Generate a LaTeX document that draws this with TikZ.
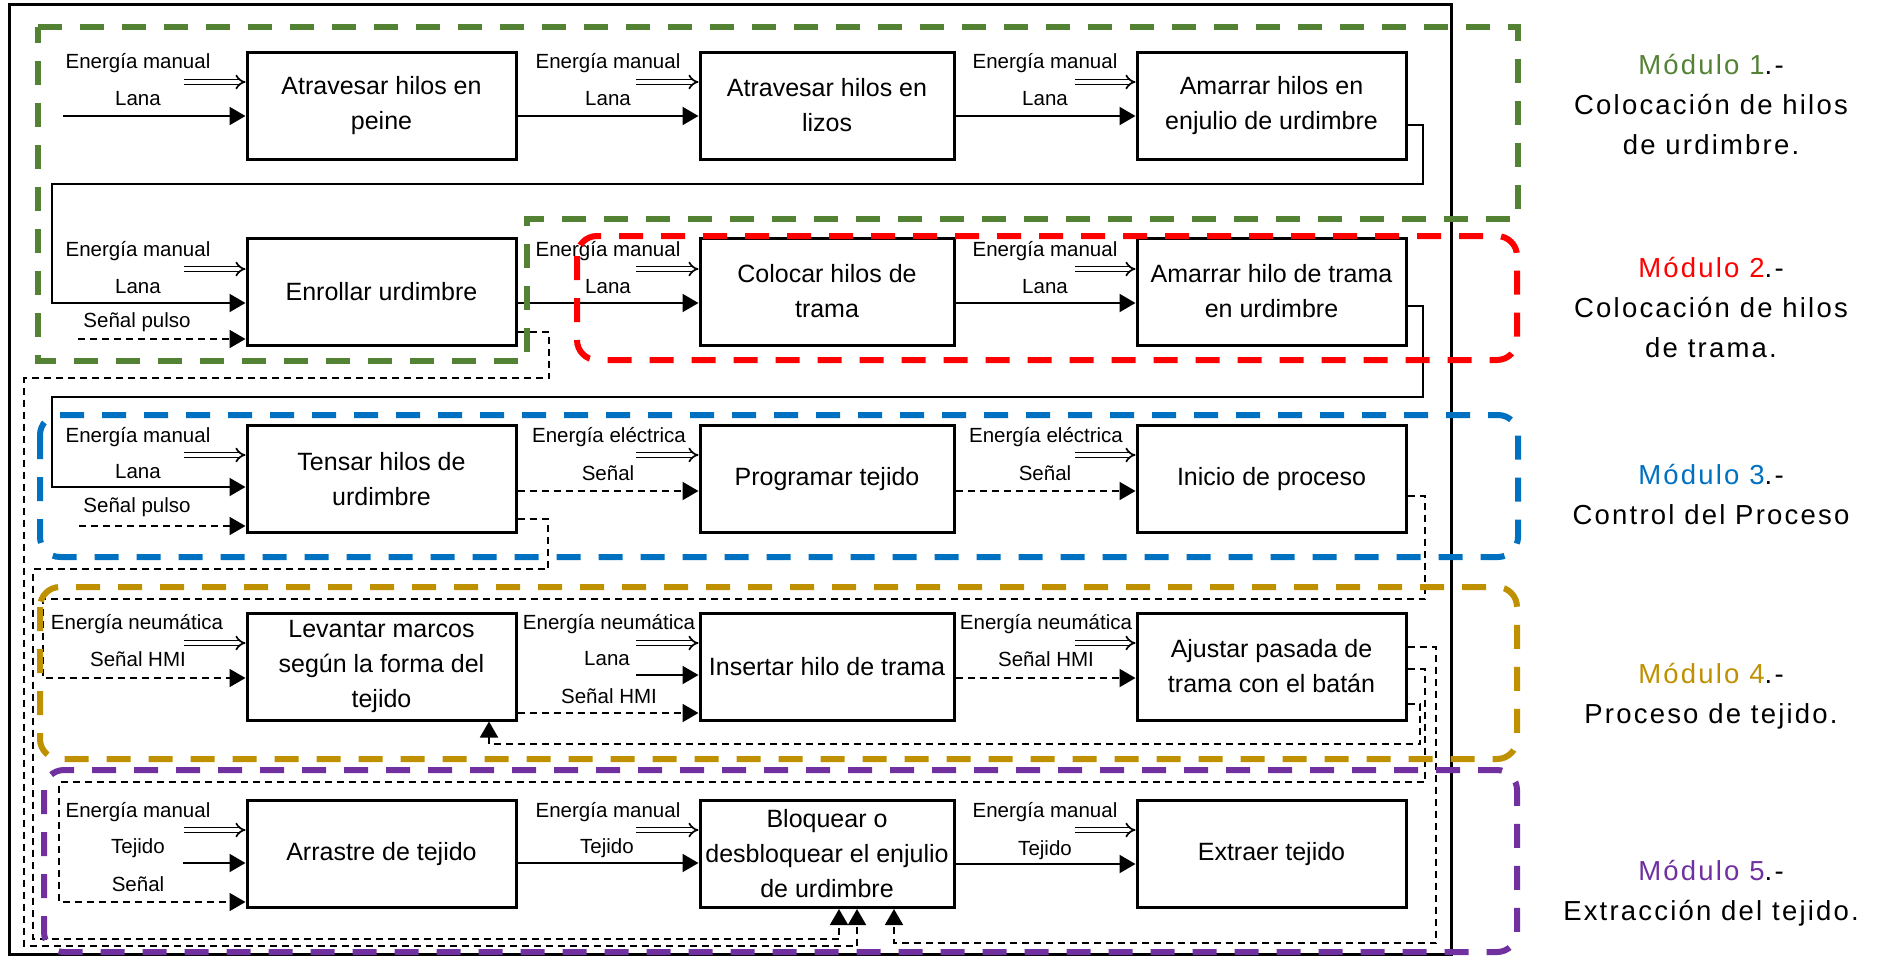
\documentclass[tikz,border=0pt]{standalone}
\usepackage{fontspec}
\setmainfont{Liberation Sans}
\newfontfamily\modfont[LetterSpace=8]{Liberation Sans}
\usetikzlibrary{arrows.meta}
\definecolor{mgreen}{RGB}{84,130,53}
\definecolor{mred}{RGB}{255,0,0}
\definecolor{mblue}{RGB}{0,112,192}
\definecolor{mgold}{RGB}{191,144,0}
\definecolor{mpurple}{RGB}{112,48,160}
\tikzset{
  box/.style={draw, line width=3pt, minimum height=107pt, inner sep=0pt, align=center,
    font=\fontsize{25}{35}\selectfont},
  wbox/.style={box, minimum width=269pt},
  nbox/.style={box, minimum width=254pt},
  lbl/.style={font=\fontsize{20.5}{24}\selectfont, inner sep=0pt},
  tip/.style={-{Triangle[length=16pt,width=18pt]}},
  sarrow/.style={line width=2pt, tip},
  darrow/.style={line width=1.7pt, double, double distance=3.2pt, -{Implies}},
  sigarrow/.style={line width=2pt, dash pattern=on 7pt off 5pt, tip},
  conn/.style={line width=2pt, tip},
  fbline/.style={line width=1.8pt, dash pattern=on 7pt off 5pt, tip},
  modline/.style={line width=6pt, dash pattern=on 24pt off 18pt},
  modlbl/.style={font=\modfont\fontsize{27.5}{40}\selectfont, align=center, inner sep=0pt},
}
\begin{document}
\begin{tikzpicture}[x=1pt,y=-1pt]
\useasboundingbox (0,0) rectangle (1881,956);
\draw[line width=3pt] (9,4) rectangle (1451,954);

% ---------- boxes ----------
\node[wbox] (A1) at (381.5,105.5) {Atravesar hilos en\\peine};
\node[nbox] (A2) at (827,105.5) {Atravesar hilos en\\lizos};
\node[wbox] (A3) at (1271.5,105.5) {Amarrar hilos en\\enjulio de urdimbre};
\node[wbox] (B1) at (381.5,291.5) {Enrollar urdimbre};
\node[nbox] (B2) at (827,291.5) {Colocar hilos de\\trama};
\node[wbox] (B3) at (1271.5,291.5) {Amarrar hilo de trama\\en urdimbre};
\node[wbox] (C1) at (381.5,479) {Tensar hilos de\\urdimbre};
\node[nbox] (C2) at (827,479) {Programar tejido};
\node[wbox] (C3) at (1271.5,479) {Inicio de proceso};
\node[wbox] (D1) at (381.5,666.5) {Levantar marcos\\según la forma del\\tejido};
\node[nbox] (D2) at (827,666.5) {Insertar hilo de trama};
\node[wbox] (D3) at (1271.5,666.5) {Ajustar pasada de\\trama con el batán};
\node[wbox] (E1) at (381.5,854) {Arrastre de tejido};
\node[nbox] (E2) at (827,854) {Bloquear o\\desbloquear el enjulio\\de urdimbre};
\node[wbox] (E3) at (1271.5,854) {Extraer tejido};

% ---------- row 1 ----------
\node[lbl] (a0e) at (138,63) {Energía manual};
\node[lbl] (a0l) at (138,99) {Lana};
\node[lbl] (a1e) at (608,63) {Energía manual};
\node[lbl] (a1l) at (608,99) {Lana};
\node[lbl] (a2e) at (1045,63) {Energía manual};
\node[lbl] (a2l) at (1045,99) {Lana};
\coordinate (a0d) at (184,82);
\coordinate (a0s) at (63,116);
\coordinate (a1d) at (636,82);
\coordinate (a2d) at (1075,82);
\draw[darrow] (a0d) -- (a0d -| A1.west);
\draw[sarrow] (a0s) -- (a0s -| A1.west);
\draw[darrow] (a1d) -- (a1d -| A2.west);
\draw[sarrow] (A1.east |- 0,116) -- (A2.west |- 0,116);
\draw[darrow] (a2d) -- (a2d -| A3.west);
\draw[sarrow] (A2.east |- 0,116) -- (A3.west |- 0,116);
\draw[conn] (A3.east |- 0,125) -| (1423,184) -| (52,303) -- (B1.west |- 0,303);

% ---------- row 2 ----------
\node[lbl] (b0e) at (138,251) {Energía manual};
\node[lbl] (b0l) at (138,287) {Lana};
\node[lbl] (b0p) at (137,322) {Señal pulso};
\node[lbl] (b1e) at (608,251) {Energía manual};
\node[lbl] (b1l) at (608,287) {Lana};
\node[lbl] (b2e) at (1045,251) {Energía manual};
\node[lbl] (b2l) at (1045,287) {Lana};
\coordinate (b0d) at (184,269);
\coordinate (b0p0) at (78,339);
\coordinate (b1d) at (636,269);
\coordinate (b2d) at (1075,269);
\draw[darrow] (b0d) -- (b0d -| B1.west);
\draw[sigarrow] (b0p0) -- (b0p0 -| B1.west);
\draw[darrow] (b1d) -- (b1d -| B2.west);
\draw[sarrow] (B1.east |- 0,303) -- (B2.west |- 0,303);
\draw[darrow] (b2d) -- (b2d -| B3.west);
\draw[sarrow] (B2.east |- 0,303) -- (B3.west |- 0,303);
\draw[conn] (B3.east |- 0,306) -| (1423,397) -| (52,487) -- (C1.west |- 0,487);

% ---------- row 3 ----------
\node[lbl] (c0e) at (138,437) {Energía manual};
\node[lbl] (c0l) at (138,472) {Lana};
\node[lbl] (c0p) at (137,507) {Señal pulso};
\node[lbl] (c1e) at (609,437) {Energía eléctrica};
\node[lbl] (c1s) at (608,473) {Señal};
\node[lbl] (c2e) at (1046,437) {Energía eléctrica};
\node[lbl] (c2s) at (1045,473) {Señal};
\coordinate (c0d) at (184,455);
\coordinate (c0p0) at (79,526);
\coordinate (c1d) at (636,455);
\coordinate (c2d) at (1075,455);
\draw[darrow] (c0d) -- (c0d -| C1.west);
\draw[sigarrow] (c0p0) -- (c0p0 -| C1.west);
\draw[darrow] (c1d) -- (c1d -| C2.west);
\draw[sigarrow] (C1.east |- 0,491) -- (C2.west |- 0,491);
\draw[darrow] (c2d) -- (c2d -| C3.west);
\draw[sigarrow] (C2.east |- 0,491) -- (C3.west |- 0,491);

% ---------- row 4 ----------
\node[lbl] (d0e) at (137,624) {Energía neumática};
\node[lbl] (d0h) at (138,659) {Señal HMI};
\node[lbl] (d1e) at (609,624) {Energía neumática};
\node[lbl] (d1l) at (607,659) {Lana};
\node[lbl] (d1h) at (609,696) {Señal HMI};
\node[lbl] (d2e) at (1046,624) {Energía neumática};
\node[lbl] (d2h) at (1046,659) {Señal HMI};
\coordinate (d0d) at (184,643);
\coordinate (d1d) at (636,643);
\coordinate (d1s) at (636,675);
\coordinate (d2d) at (1075,643);
\draw[darrow] (d0d) -- (d0d -| D1.west);
\draw[darrow] (d1d) -- (d1d -| D2.west);
\draw[sarrow] (d1s) -- (d1s -| D2.west);
\draw[sigarrow] (D1.east |- 0,713) -- (D2.west |- 0,713);
\draw[darrow] (d2d) -- (d2d -| D3.west);
\draw[sigarrow] (D2.east |- 0,678) -- (D3.west |- 0,678);

% ---------- row 5 ----------
\node[lbl] (e0e) at (138,812) {Energía manual};
\node[lbl] (e0t) at (138,848) {Tejido};
\node[lbl] (e0s) at (138,884) {Señal};
\node[lbl] (e1e) at (608,812) {Energía manual};
\node[lbl] (e1t) at (607,848) {Tejido};
\node[lbl] (e2e) at (1045,812) {Energía manual};
\node[lbl] (e2t) at (1045,850) {Tejido};
\coordinate (e0d) at (184,830);
\coordinate (e0s0) at (183,863);
\coordinate (e1d) at (636,830);
\coordinate (e2d) at (1075,830);
\draw[darrow] (e0d) -- (e0d -| E1.west);
\draw[sarrow] (e0s0) -- (e0s0 -| E1.west);
\draw[darrow] (e1d) -- (e1d -| E2.west);
\draw[sarrow] (E1.east |- 0,863) -- (E2.west |- 0,863);
\draw[darrow] (e2d) -- (e2d -| E3.west);
\draw[sarrow] (E2.east |- 0,864) -- (E3.west |- 0,864);

% ---------- feedback signal lines ----------
\draw[fbline] (B1.east |- 0,332) -| (549,378) -| (24,946) -| (E2.south -| 857,0);
\draw[fbline] (C1.east |- 0,519) -| (548,569) -| (33,939) -| (E2.south -| 839,0);
\draw[fbline] (C3.east |- 0,496) -| (1425,599) -| (43,678) -- (D1.west |- 0,678);
\draw[fbline] (D3.east |- 0,647) -| (1436,943) -| (E2.south -| 894,0);
\draw[fbline] (D3.east |- 0,669) -| (1425,782) -| (59,902) -- (E1.west |- 0,902);
\draw[fbline] (D3.east |- 0,704) -| (1420,744) -| (D1.south -| 489,0);

% ---------- module outlines ----------
\draw[modline, mgreen] (38,27) -- (1518,27) -- (1518,219) -- (527,219) -- (527,361) -- (38,361) -- cycle;
\draw[modline, mred, rounded corners=20pt] (577,236) rectangle (1517,360);
\draw[modline, mblue, rounded corners=20pt] (40,415) rectangle (1518,557);
\draw[modline, mgold, rounded corners=20pt] (40,587) rectangle (1517,759);
\draw[modline, mpurple, rounded corners=20pt] (44,770) rectangle (1517,952);

% ---------- module labels ----------
\node[modlbl] (m1) at (1711,105) {\textcolor{mgreen}{Módulo 1}.-\\Colocación de hilos\\de urdimbre.};
\node[modlbl] (m2) at (1711,308) {\textcolor{mred}{Módulo 2}.-\\Colocación de hilos\\de trama.};
\node[modlbl] (m3) at (1711,494.5) {\textcolor{mblue}{Módulo 3}.-\\Control del Proceso};
\node[modlbl] (m4) at (1711,696) {\textcolor{mgold}{Módulo 4}.-\\Proceso de tejido.};
\node[modlbl] (m5) at (1711,893.5) {\textcolor{mpurple}{Módulo 5}.-\\Extracción del tejido.};
\end{tikzpicture}
\end{document}
